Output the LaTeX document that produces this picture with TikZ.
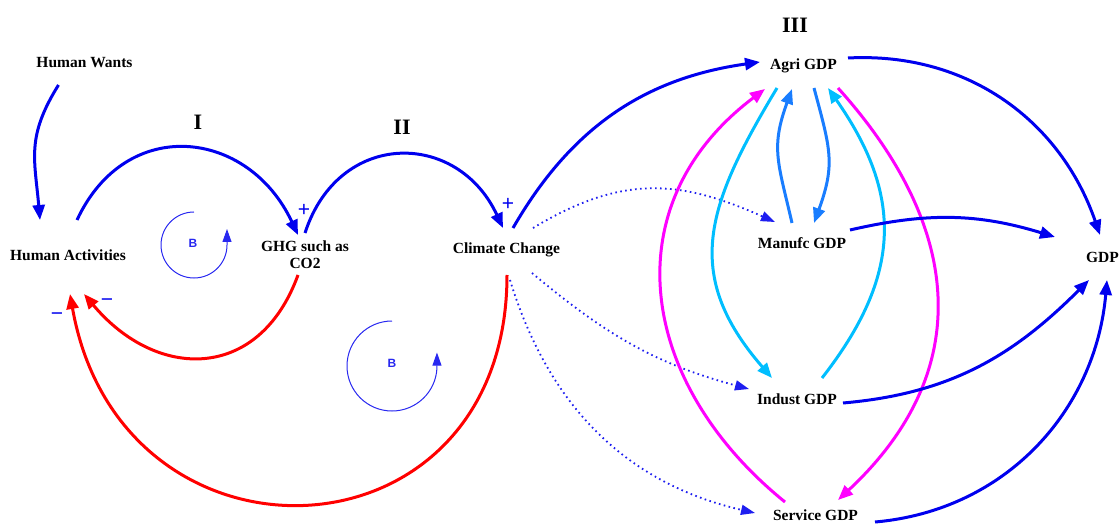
\documentclass[tikz,border=0pt]{standalone}
\usepackage{fontspec}
\setmainfont{Liberation Serif}
\newfontfamily\signfont{Liberation Sans}
\usetikzlibrary{arrows.meta,calc}
\definecolor{cldblue}{RGB}{0,0,238}
\definecolor{dotblue}{RGB}{30,30,240}
\definecolor{loopblue}{RGB}{40,40,240}
\definecolor{cldred}{RGB}{255,0,0}
\definecolor{cldmag}{RGB}{255,0,255}
\definecolor{cldcyan}{RGB}{0,190,255}
\definecolor{clddodger}{RGB}{25,125,255}
\begin{document}
\begin{tikzpicture}[x=1pt,y=1pt,
  lbl/.style={font=\fontsize{15.5}{17}\selectfont\bfseries, inner sep=0pt, align=center},
  roman/.style={font=\fontsize{22}{24}\selectfont\bfseries, inner sep=0pt},
  sign/.style={font=\signfont\fontsize{21}{21}\selectfont, text=cldblue, inner sep=0pt},
  bl/.style={font=\signfont\fontsize{12}{12}\selectfont\bfseries, text=loopblue, inner sep=0pt},
  thk/.style={line width=3pt, -{Triangle[length=15pt,width=12pt]}},
  dotst/.style={draw=dotblue, line width=1.8pt, dash pattern=on 1.6pt off 3.4pt, -{Triangle[length=14pt,width=10pt]}},
  loopst/.style={draw=loopblue, line width=1pt, -{Triangle[length=13pt,width=9pt]}}
]
\useasboundingbox (0,0) rectangle (1120,523);

% nodes
\node[lbl] (HW) at (84.5,460) {Human Wants};
\node[lbl] (HA) at (68,268) {Human Activities};
\node[lbl] (GHG) at (305,268.5) {GHG such as\\CO2};
\node[lbl] (CC) at (506.5,273) {Climate Change};
\node[lbl] (AG) at (803.5,457) {Agri GDP};
\node[lbl] (MG) at (802,280) {Manufc GDP};
\node[lbl] (IG) at (797,124) {Indust GDP};
\node[lbl] (SG) at (815.5,8) {Service GDP};
\node[lbl] (GDP) at (1102.5,266) {GDP};
\node[roman] (R1) at (198,401) {I};
\node[roman] (R2) at (402,396) {II};
\node[roman] (R3) at (795,498) {III};

% signs
\node[sign] (p1) at (304,313) {+};
\node[sign] (p2) at (508,319) {+};
\node[sign] (m1) at (107,220) {\char"2212};
\node[sign] (m2) at (57,206) {\char"2212};

% loops
\node[bl] (B1) at (193,280) {B};
\node[bl] (B2) at (392,160) {B};
\draw[loopst] ($(B1.center)+(1,31)$) arc[start angle=90, end angle=360, radius=33] -- ++(0,16);
\draw[loopst] ($(B2.center)+(0,42)$) arc[start angle=90, end angle=358, radius=45] -- ++(0,15);

% blue causal links
\draw[thk, draw=cldblue] ($(HW)+(-26,-22)$) to[out=238, in=95, looseness=1.15] ($(HA)+(-28,35)$);
\draw[thk, draw=cldblue] ($(HA)+(9,35)$) to[out=65, in=115, looseness=1.35] ($(GHG)+(-7,19.5)$);
\draw[thk, draw=cldblue] ($(GHG)+(0,21.5)$) to[out=72, in=115, looseness=1.4] ($(CC)+(-3.5,22)$);
\draw[thk, draw=cldblue] ($(CC)+(6.5,22)$) to[out=60, in=188, looseness=1] ($(AG)+(-43.5,4)$);

% red negative links
\draw[thk, draw=cldred] ($(GHG)+(-7,-20.5)$) to[out=250, in=310, looseness=1.35] ($(HA)+(16,-39)$);
\draw[thk, draw=cldred] ($(CC)+(0.5,-25)$) to[out=270, in=280, looseness=1.72] ($(HA)+(2,-39)$);

% dotted links
\draw[dotst] ($(CC)+(26.5,22)$) to[out=31, in=156, looseness=1.1] ($(MG)+(-27,21)$);
\draw[dotst] ($(CC)+(25.5,-23)$) to[out=-40, in=165] ($(IG)+(-48,10)$);
\draw[dotst] ($(CC)+(3.5,-30)$) to[out=-73, in=167] ($(SG)+(-60.5,2)$);

% sector links
\draw[thk, draw=clddodger] ($(MG)+(-10,20)$) to[out=103, in=250, looseness=1.2] ($(AG)+(-11.5,-23)$);
\draw[thk, draw=clddodger] ($(AG)+(10.5,-22)$) to[out=-75, in=70, looseness=1.2] ($(MG)+(12,20)$);
\draw[thk, draw=cldcyan] ($(AG)+(-26.5,-22)$) to[out=239, in=131, looseness=1.21] ($(IG)+(-25,21)$);
\draw[thk, draw=cldcyan] ($(IG)+(25,21)$) to[out=52, in=305, looseness=1.15] ($(AG)+(24.5,-22)$);
\draw[thk, draw=cldmag] ($(SG)+(-30.5,13)$) to[out=141, in=217, looseness=1.18] ($(AG)+(-38.5,-23)$);
\draw[thk, draw=cldmag] ($(AG)+(34.5,-22)$) to[out=-48, in=43, looseness=1.17] ($(SG)+(22.5,15)$);

% to GDP
\draw[thk, draw=cldblue] ($(AG)+(44.5,8)$) to[out=3, in=109] ($(GDP)+(-2.5,22)$);
\draw[thk, draw=cldblue] ($(MG)+(48,13)$) to[out=13, in=163] ($(GDP)+(-47.5,20)$);
\draw[thk, draw=cldblue] ($(IG)+(46,-4)$) to[out=5, in=225] ($(GDP)+(-13.5,-23)$);
\draw[thk, draw=cldblue] ($(SG)+(59.5,-7)$) to[out=5, in=265] ($(GDP)+(4.5,-23)$);
\end{tikzpicture}
\end{document}
